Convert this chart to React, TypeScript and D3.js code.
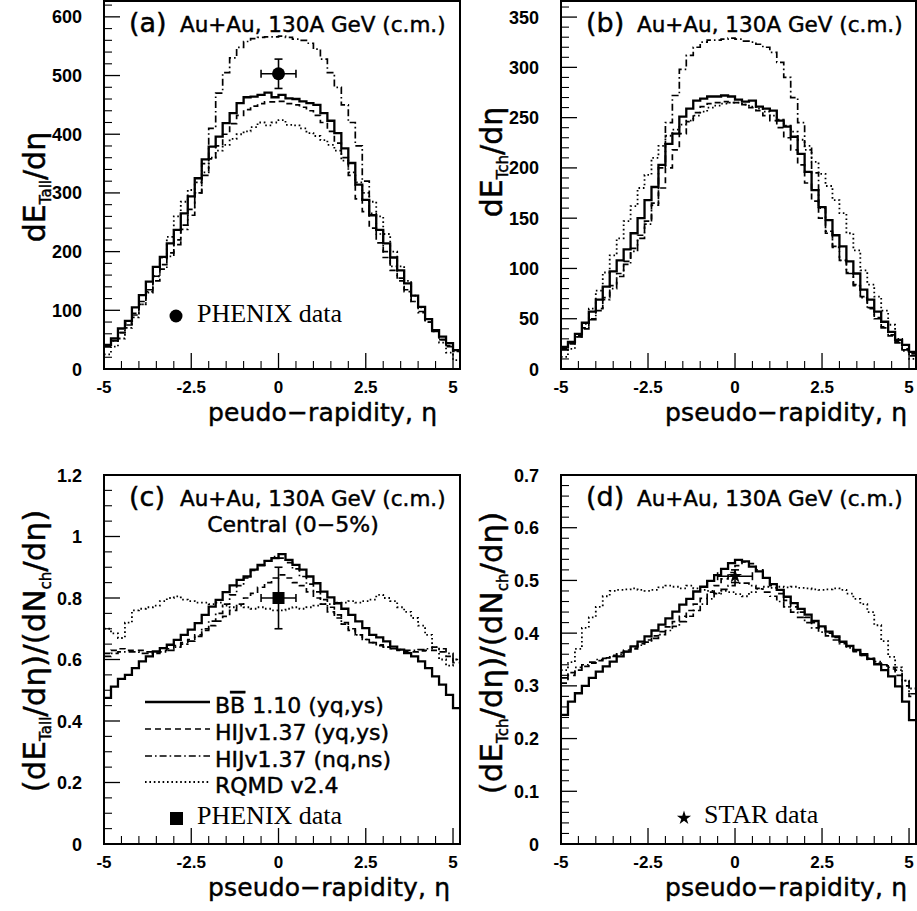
import React from 'react';
import * as d3 from 'd3';

// ---------- binning / axes ----------
const etaBinStart = -5;
const etaBinWidth = 0.2;
const xDomain = [-5, 5.2];
const xTicks = [-5, -2.5, 0, 2.5, 5];
const xTickLabels = ['-5', '-2.5', '0', '2.5', '5'];
const xMinorStep = 0.5;

// ---------- panel (a): dE_Tall/deta ----------
const aBB = [41,52,69,82,105,126,149,174,191,214,237,265,294,325,357,379,396,419,436,453,463,464,467,471,463,467,461,460,456,453,450,436,423,402,376,351,314,288,262,237,214,190,168,146,125,106,85,66,55,44,32];
const aHIJq = [38,48,62,78,95,115,135,158,178,198,220,245,272,300,330,358,380,400,418,432,442,448,452,455,455,456,452,450,446,440,432,420,405,385,360,330,290,268,240,215,190,168,150,132,115,98,80,64,50,40,30];
const aHIJn = [38,48,62,75,92,110,130,150,170,192,212,238,262,300,350,410,470,505,530,548,558,563,565,566,566,567,565,562,560,555,545,528,505,480,450,420,380,320,265,230,200,175,155,135,115,96,80,64,50,38,30];
const aRQMD = [25,38,52,70,88,110,132,158,190,225,260,285,305,318,335,360,372,382,392,400,405,412,420,415,420,424,416,415,410,402,397,390,382,372,355,335,318,300,285,260,230,200,175,150,125,105,85,65,45,28,15];
const aTicks = [0, 100, 200, 300, 400, 500, 600];
const aTickLabels = ['0', '100', '200', '300', '400', '500', '600'];

// ---------- panel (b): dE_Tch/deta ----------
const bBB = [22,27,35,46,57,69,82,97,108,119,135,150,168,181,203,224,234,251,259,267,269,271,271,272,271,268,266,267,261,259,257,247,241,231,214,196,178,161,148,133,122,107,95,79,69,57,47,37,29,24,17];
const bHIJq = [20,26,33,41,50,60,71,83,95,107,120,133,147,163,180,200,218,234,246,255,261,264,265,266,265,265,263,260,257,252,247,240,230,218,203,185,167,150,135,121,108,96,84,72,61,51,42,34,27,20,15];
const bHIJn = [19,25,32,40,49,58,69,80,92,104,117,130,144,165,200,245,272,298,312,320,325,327,327,328,329,328,326,325,323,320,315,305,290,270,245,222,195,160,137,122,108,95,83,71,60,50,41,33,26,19,13];
const bRQMD = [12,20,32,45,60,78,96,113,130,147,162,180,193,210,222,232,238,243,247,252,256,260,262,264,265,265,263,261,259,256,252,248,242,236,228,218,206,194,182,168,155,135,118,98,84,72,58,44,30,18,10];
const bTicks = [0, 50, 100, 150, 200, 250, 300, 350];
const bTickLabels = ['0', '50', '100', '150', '200', '250', '300', '350'];

// ---------- panel (c): (dE_Tall/deta)/(dN_ch/deta) ----------
const cBB = [0.475,0.512,0.537,0.55,0.572,0.594,0.61,0.626,0.637,0.648,0.664,0.68,0.697,0.718,0.745,0.772,0.794,0.819,0.841,0.859,0.87,0.892,0.908,0.921,0.93,0.943,0.924,0.908,0.892,0.87,0.848,0.821,0.802,0.783,0.765,0.745,0.724,0.702,0.68,0.672,0.659,0.642,0.632,0.621,0.61,0.594,0.572,0.545,0.518,0.485,0.442];
const cHIJq = [0.62,0.63,0.635,0.63,0.63,0.63,0.625,0.625,0.63,0.635,0.645,0.655,0.665,0.68,0.695,0.71,0.725,0.74,0.76,0.78,0.8,0.815,0.835,0.85,0.865,0.875,0.865,0.85,0.84,0.82,0.8,0.78,0.755,0.735,0.715,0.695,0.68,0.665,0.655,0.648,0.64,0.635,0.63,0.625,0.625,0.628,0.63,0.63,0.625,0.61,0.59];
const cHIJn = [0.61,0.62,0.625,0.625,0.625,0.62,0.62,0.62,0.625,0.63,0.64,0.65,0.66,0.675,0.7,0.725,0.75,0.78,0.81,0.84,0.865,0.89,0.905,0.92,0.935,0.93,0.915,0.895,0.87,0.845,0.82,0.795,0.77,0.745,0.72,0.7,0.68,0.665,0.655,0.645,0.64,0.635,0.632,0.63,0.63,0.632,0.635,0.64,0.635,0.62,0.6];
const cRQMD = [0.7,0.685,0.67,0.72,0.76,0.765,0.77,0.775,0.79,0.8,0.805,0.795,0.79,0.785,0.785,0.78,0.785,0.775,0.77,0.775,0.77,0.765,0.77,0.765,0.76,0.76,0.765,0.77,0.765,0.77,0.775,0.78,0.78,0.785,0.785,0.79,0.785,0.79,0.795,0.81,0.8,0.79,0.77,0.755,0.735,0.71,0.68,0.64,0.6,0.58,0.6];
const cTicks = [0, 0.2, 0.4, 0.6, 0.8, 1, 1.2];
const cTickLabels = ['0', '0.2', '0.4', '0.6', '0.8', '1', '1.2'];

// ---------- panel (d): (dE_Tch/deta)/(dN_ch/deta) ----------
const dBB = [0.245,0.27,0.286,0.3,0.315,0.327,0.337,0.346,0.356,0.365,0.375,0.384,0.394,0.405,0.416,0.428,0.441,0.454,0.465,0.479,0.488,0.499,0.51,0.522,0.533,0.539,0.536,0.526,0.517,0.505,0.493,0.482,0.469,0.457,0.446,0.435,0.423,0.413,0.403,0.394,0.384,0.376,0.368,0.36,0.351,0.341,0.33,0.318,0.299,0.27,0.235];
const dHIJq = [0.305,0.32,0.33,0.337,0.343,0.348,0.353,0.358,0.363,0.368,0.374,0.38,0.387,0.395,0.403,0.412,0.422,0.432,0.443,0.455,0.466,0.478,0.49,0.503,0.515,0.528,0.535,0.532,0.52,0.505,0.49,0.475,0.462,0.45,0.44,0.43,0.42,0.41,0.4,0.392,0.383,0.375,0.366,0.358,0.35,0.343,0.338,0.332,0.32,0.3,0.28];
const dHIJn = [0.315,0.325,0.335,0.34,0.345,0.35,0.352,0.356,0.36,0.365,0.37,0.377,0.383,0.39,0.397,0.405,0.413,0.422,0.432,0.443,0.455,0.465,0.475,0.483,0.49,0.495,0.495,0.49,0.485,0.478,0.47,0.46,0.45,0.44,0.43,0.42,0.41,0.402,0.395,0.387,0.38,0.372,0.365,0.358,0.352,0.346,0.34,0.335,0.33,0.31,0.285];
const dRQMD = [0.33,0.345,0.37,0.41,0.43,0.45,0.47,0.48,0.482,0.483,0.485,0.482,0.48,0.482,0.487,0.49,0.488,0.485,0.49,0.485,0.482,0.48,0.476,0.48,0.478,0.474,0.47,0.478,0.484,0.488,0.486,0.488,0.487,0.488,0.486,0.485,0.483,0.482,0.483,0.485,0.482,0.475,0.465,0.455,0.44,0.415,0.385,0.355,0.335,0.31,0.295];
const dTicks = [0, 0.1, 0.2, 0.3, 0.4, 0.5, 0.6, 0.7];
const dTickLabels = ['0', '0.1', '0.2', '0.3', '0.4', '0.5', '0.6', '0.7'];

// ---------- measured data points ----------
const phenixEtEta = [0];
const phenixEtVal = [503];
const phenixEtErr = [25];
const phenixEtEtaErr = [0.5];
const phenixRatioEta = [0];
const phenixRatioVal = [0.8];
const phenixRatioErr = [0.1];
const phenixRatioEtaErr = [0.5];
const starRatioEta = [0];
const starRatioVal = [0.508];
const starRatioErr = [0.012];
const starRatioEtaErr = [0.5];

// ---------- legend ----------
const legendLabels = ['1.10 (yq,ys)', 'HIJv1.37 (yq,ys)', 'HIJv1.37 (nq,ns)', 'RQMD v2.4'];
const seriesKeys = ['BB', 'HIJq', 'HIJn', 'RQMD'];

const styleOf: Record<string, { dash?: string; w: number }> = {
  BB: { w: 2.3 },
  HIJq: { dash: '6,4', w: 1.7 },
  HIJn: { dash: '7,3,1.6,3', w: 1.7 },
  RQMD: { dash: '1.6,2.8', w: 1.8 },
};

const TICK_FONT = '"Liberation Sans", Arial, sans-serif';
const LABEL_FONT = '"DejaVu Sans", Verdana, sans-serif';
const SERIF = '"Liberation Serif", "Times New Roman", serif';
const THICK = { stroke: '#000', strokeWidth: 0.45 };

type PanelProps = {
  left: number; right: number; top: number; bottom: number;
  yMax: number; yTicks: number[]; yTickLabels: string[]; yMinor: number;
  series: Record<string, number[]>;
  tag: string;
  yTitle: React.ReactNode;
  yTitleY: number;
  yTitleSize: number;
  xTitle: string;
  xTitleLen: number;
  extra?: (x: d3.ScaleLinear<number, number>, y: d3.ScaleLinear<number, number>) => React.ReactNode;
  secondLine?: string;
};

function Panel(p: PanelProps) {
  const x = d3.scaleLinear().domain(xDomain).range([p.left, p.right]);
  const y = d3.scaleLinear().domain([0, p.yMax]).range([p.bottom, p.top]);
  const line = d3.line<[number, number]>().curve(d3.curveStepAfter);
  const histPath = (vals: number[]) => {
    const pts: [number, number][] = vals.map((v, i) => [x(etaBinStart + i * etaBinWidth), y(v)]);
    pts.push([x(etaBinStart + vals.length * etaBinWidth), y(vals[vals.length - 1])]);
    return line(pts) || '';
  };
  const xMinor = d3.range(xDomain[0], xDomain[1] + 1e-9, xMinorStep).filter((t) => !xTicks.some((m) => Math.abs(m - t) < 1e-6));
  const yMinor = d3.range(0, p.yMax + 1e-9, p.yMinor).filter((t) => !p.yTicks.some((m) => Math.abs(m - t) < 1e-6));
  const order = ['RQMD', 'HIJn', 'HIJq', 'BB'];
  const rel = p.left - 104;
  return (
    <g>
      <defs>
        <clipPath id={'clip' + p.tag}>
          <rect x={p.left} y={p.top} width={p.right - p.left} height={p.bottom - p.top} />
        </clipPath>
      </defs>
      <g clipPath={`url(#clip${p.tag})`}>
        {order.map((k) => (
          <path key={k} d={histPath(p.series[k])} fill="none" stroke="#000"
            strokeWidth={styleOf[k].w} strokeDasharray={styleOf[k].dash} />
        ))}
      </g>
      {p.yTicks.map((t) => (
        <line key={'ym' + t} x1={p.left} x2={p.left + 16} y1={y(t)} y2={y(t)} stroke="#000" strokeWidth={1.3} />
      ))}
      {yMinor.map((t) => (
        <line key={'yn' + t} x1={p.left} x2={p.left + 8} y1={y(t)} y2={y(t)} stroke="#000" strokeWidth={1.1} />
      ))}
      {xTicks.map((t) => (
        <line key={'xm' + t} x1={x(t)} x2={x(t)} y1={p.bottom} y2={p.bottom - 16} stroke="#000" strokeWidth={1.3} />
      ))}
      {xMinor.map((t) => (
        <line key={'xn' + t} x1={x(t)} x2={x(t)} y1={p.bottom} y2={p.bottom - 8} stroke="#000" strokeWidth={1.1} />
      ))}
      <rect x={p.left} y={p.top} width={p.right - p.left} height={p.bottom - p.top} fill="none" stroke="#000" strokeWidth={2} />
      {p.yTicks.map((t, i) => (
        <text key={'yl' + t} x={p.left - 22} y={y(t) + 6.5} textAnchor="end" fontFamily={TICK_FONT} fontWeight="bold" fontSize={18}>
          {p.yTickLabels[i]}
        </text>
      ))}
      {xTicks.map((t, i) => (
        <text key={'xl' + t} x={x(t)} y={p.bottom + 24} textAnchor="middle" fontFamily={TICK_FONT} fontWeight="bold" fontSize={17}>
          {xTickLabels[i]}
        </text>
      ))}
      <text x={rel + 129} y={p.top + 31} fontFamily={LABEL_FONT} fontSize={27} {...THICK}>{`(${p.tag})`}</text>
      <text x={rel + 180} y={p.top + 31} fontFamily={LABEL_FONT} fontSize={21.5} {...THICK}>Au+Au, 130A GeV (c.m.)</text>
      {p.secondLine && (
        <text x={rel + 293} y={p.top + 57} textAnchor="middle" fontFamily={LABEL_FONT} fontSize={22} {...THICK}>{p.secondLine}</text>
      )}
      <text x={rel + 208} y={p.bottom + 52} fontFamily={LABEL_FONT} fontSize={25} textLength={p.xTitleLen} lengthAdjust="spacing" {...THICK}>{p.xTitle}</text>
      <text transform={`translate(${rel + 45},${p.yTitleY}) rotate(-90)`} textAnchor="middle" fontFamily={LABEL_FONT} fontSize={p.yTitleSize} {...THICK}>
        {p.yTitle}
      </text>
      {p.extra && p.extra(x, y)}
    </g>
  );
}

function ErrorPoint({ x, y, eta, val, err, etaErr, marker }: any) {
  const cx = x(eta), cy = y(val);
  const x0 = x(eta - etaErr), x1 = x(eta + etaErr);
  const y0 = y(val - err), y1 = y(val + err);
  const cap = 4;
  return (
    <g stroke="#000" strokeWidth={1.6}>
      <line x1={x0} x2={x1} y1={cy} y2={cy} />
      <line x1={x0} x2={x0} y1={cy - cap} y2={cy + cap} />
      <line x1={x1} x2={x1} y1={cy - cap} y2={cy + cap} />
      <line x1={cx} x2={cx} y1={y0} y2={y1} />
      <line x1={cx - cap} x2={cx + cap} y1={y0} y2={y0} />
      <line x1={cx - cap} x2={cx + cap} y1={y1} y2={y1} />
      {marker(cx, cy)}
    </g>
  );
}

const circleMarker = (cx: number, cy: number) => <circle cx={cx} cy={cy} r={6.5} fill="#000" stroke="none" />;
const squareMarker = (cx: number, cy: number) => <rect x={cx - 6} y={cy - 6} width={12} height={12} fill="#000" stroke="none" />;
const starPath = d3.symbol(d3.symbolStar, 62)() || '';
const starMarker = (cx: number, cy: number) => <path d={starPath} transform={`translate(${cx},${cy})`} fill="#000" stroke="none" />;

function Sub({ children }: { children: string }) {
  return <tspan fontSize={15} dy={6}>{children}</tspan>;
}

export default function App() {
  const seriesA = { BB: aBB, HIJq: aHIJq, HIJn: aHIJn, RQMD: aRQMD };
  const seriesB = { BB: bBB, HIJq: bHIJq, HIJn: bHIJn, RQMD: bRQMD };
  const seriesC = { BB: cBB, HIJq: cHIJq, HIJn: cHIJn, RQMD: cRQMD };
  const seriesD = { BB: dBB, HIJq: dHIJq, HIJn: dHIJn, RQMD: dRQMD };
  const legendY = [702, 729, 756, 782];
  return (
    <svg width={917} height={911} style={{ position: 'absolute', left: 0, top: 0, display: 'block', background: '#fff' }}>
      <rect x={0} y={0} width={917} height={911} fill="#fff" />
      <Panel left={104} right={460} top={1} bottom={369} yMax={627} yTicks={aTicks} yTickLabels={aTickLabels} yMinor={20}
        series={seriesA} tag="a" xTitle="peudo−rapidity, η" xTitleLen={229} yTitleY={187} yTitleSize={30}
        yTitle={<>dE<Sub>Tall</Sub><tspan dy={-6}>/dη</tspan></>}
        extra={(x, y) => (
          <g>
            {phenixEtEta.map((e, i) => (
              <ErrorPoint key={i} x={x} y={y} eta={e} val={phenixEtVal[i]} err={phenixEtErr[i]} etaErr={phenixEtEtaErr[i]} marker={circleMarker} />
            ))}
            <circle cx={176} cy={316} r={6.5} fill="#000" />
            <text x={197} y={322} fontFamily={SERIF} fontSize={26}>PHENIX data</text>
          </g>
        )}
      />
      <Panel left={561} right={916} top={1} bottom={369} yMax={366} yTicks={bTicks} yTickLabels={bTickLabels} yMinor={10}
        series={seriesB} tag="b" xTitle="pseudo−rapidity, η" xTitleLen={242} yTitleY={162} yTitleSize={30}
        yTitle={<>dE<Sub>Tch</Sub><tspan dy={-6}>/dη</tspan></>}
      />
      <Panel left={104} right={460} top={475} bottom={844} yMax={1.2} yTicks={cTicks} yTickLabels={cTickLabels} yMinor={0.05}
        series={seriesC} tag="c" xTitle="pseudo−rapidity, η" xTitleLen={242} yTitleY={651} yTitleSize={31} secondLine="Central (0−5%)"
        yTitle={<>(dE<Sub>Tall</Sub><tspan dy={-6}>/dη)/(dN</tspan><Sub>ch</Sub><tspan dy={-6}>/dη)</tspan></>}
        extra={(x, y) => (
          <g>
            {phenixRatioEta.map((e, i) => (
              <ErrorPoint key={i} x={x} y={y} eta={e} val={phenixRatioVal[i]} err={phenixRatioErr[i]} etaErr={phenixRatioEtaErr[i]} marker={squareMarker} />
            ))}
            {seriesKeys.map((k, i) => (
              <g key={k}>
                <line x1={145} x2={210} y1={legendY[i]} y2={legendY[i]} stroke="#000" strokeWidth={styleOf[k].w} strokeDasharray={styleOf[k].dash} />
                <text x={215} y={legendY[i] + 11} fontFamily={LABEL_FONT} fontSize={22} {...THICK}>
                  {i === 0 ? (<>B<tspan style={{ textDecoration: 'overline' }}>B</tspan> {legendLabels[i]}</>) : legendLabels[i]}
                </text>
              </g>
            ))}
            <rect x={170} y={812} width={13} height={13} fill="#000" />
            <text x={197} y={824} fontFamily={SERIF} fontSize={26}>PHENIX data</text>
          </g>
        )}
      />
      <Panel left={561} right={916} top={475} bottom={844} yMax={0.7} yTicks={dTicks} yTickLabels={dTickLabels} yMinor={0.02}
        series={seriesD} tag="d" xTitle="pseudo−rapidity, η" xTitleLen={242} yTitleY={653} yTitleSize={31}
        yTitle={<>(dE<Sub>Tch</Sub><tspan dy={-6}>/dη)/(dN</tspan><Sub>ch</Sub><tspan dy={-6}>/dη)</tspan></>}
        extra={(x, y) => (
          <g>
            {starRatioEta.map((e, i) => (
              <ErrorPoint key={i} x={x} y={y} eta={e} val={starRatioVal[i]} err={starRatioErr[i]} etaErr={starRatioEtaErr[i]} marker={starMarker} />
            ))}
            {starMarker(684, 818)}
            <text x={704} y={823} fontFamily={SERIF} fontSize={26}>STAR data</text>
          </g>
        )}
      />
    </svg>
  );
}
